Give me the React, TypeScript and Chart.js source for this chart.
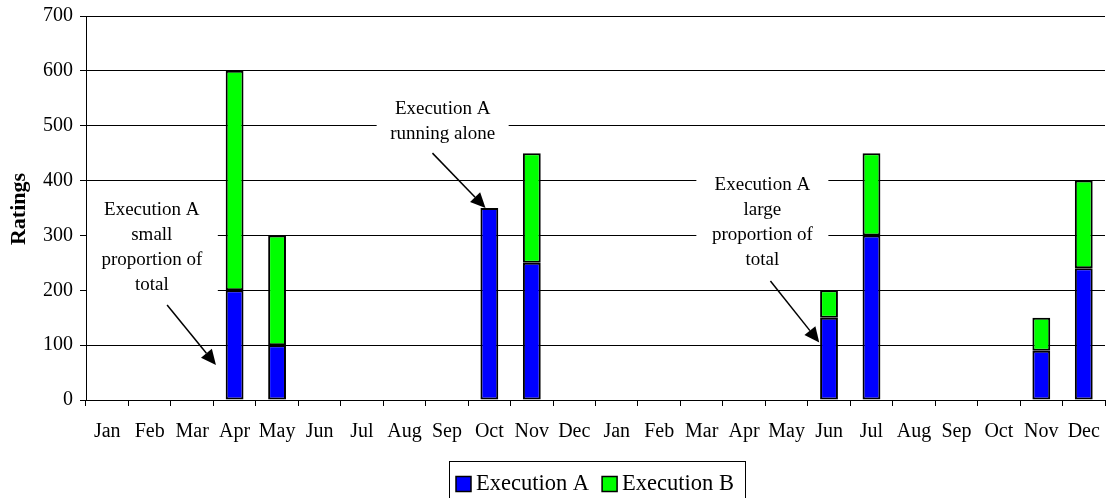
import React, { useEffect, useRef } from 'react';
import { Chart, registerables } from 'chart.js';

Chart.register(...registerables);

const FONT = '"Liberation Serif", "Times New Roman", serif';

const categories = [
  'Jan', 'Feb', 'Mar', 'Apr', 'May', 'Jun', 'Jul', 'Aug', 'Sep', 'Oct', 'Nov', 'Dec',
  'Jan', 'Feb', 'Mar', 'Apr', 'May', 'Jun', 'Jul', 'Aug', 'Sep', 'Oct', 'Nov', 'Dec',
];

const executionA = [
  null, null, null, 200, 100, null, null, null, null, 350, 250, null,
  null, null, null, null, null, 150, 300, null, null, null, 90, 240,
];

const executionB = [
  null, null, null, 400, 200, null, null, null, null, null, 200, null,
  null, null, null, null, null, 50, 150, null, null, null, 60, 160,
];

const yTicks = [0, 100, 200, 300, 400, 500, 600, 700];

const seriesNames = ['Execution A', 'Execution B'];
const seriesColors = ['#0000FF', '#00FF00'];

// annotation text; anchor in category index / value units
const annotations = [
  { lines: ['Execution A', 'small', 'proportion of', 'total'], cx: 1.05, cy: 346, from: [1.41, 173], to: [2.56, 64] },
  { lines: ['Execution A', 'running alone'], cx: 7.9, cy: 530, from: [7.66, 450], to: [8.91, 350] },
  { lines: ['Execution A', 'large', 'proportion of', 'total'], cx: 15.43, cy: 392, from: [15.62, 217], to: [16.77, 105] },
];

function drawArrow(ctx: CanvasRenderingContext2D, x1: number, y1: number, x2: number, y2: number) {
  const ang = Math.atan2(y2 - y1, x2 - x1);
  const headLen = 15;
  const headW = 7;
  const bx = x2 - headLen * Math.cos(ang);
  const by = y2 - headLen * Math.sin(ang);
  ctx.save();
  ctx.strokeStyle = '#000';
  ctx.fillStyle = '#000';
  ctx.lineWidth = 1.5;
  ctx.beginPath();
  ctx.moveTo(x1, y1);
  ctx.lineTo(bx, by);
  ctx.stroke();
  ctx.beginPath();
  ctx.moveTo(x2, y2);
  ctx.lineTo(bx + headW * Math.sin(ang), by - headW * Math.cos(ang));
  ctx.lineTo(bx - headW * Math.sin(ang), by + headW * Math.cos(ang));
  ctx.closePath();
  ctx.fill();
  ctx.restore();
}

const overlayPlugin = {
  id: 'overlay',
  afterDraw(chart: any) {
    const { ctx, scales, chartArea } = chart;
    const xs = scales.x;
    const ys = scales.y;
    const lineH = 25;
    ctx.save();
    annotations.forEach((a) => {
      const cx = xs.getPixelForValue(a.cx);
      const cy = ys.getPixelForValue(a.cy);
      const top = cy - 16;
      const bottom = cy + (a.lines.length - 1) * lineH + 14;
      const left = Math.max(cx - 66, chartArea.left + 1);
      const right = cx + 66;
      ctx.fillStyle = '#fff';
      ctx.fillRect(left, top, right - left, bottom - top);
      ctx.fillStyle = '#000';
      ctx.font = `19px ${FONT}`;
      ctx.textAlign = 'center';
      ctx.textBaseline = 'middle';
      a.lines.forEach((l, i) => ctx.fillText(l, cx, cy + i * lineH));
      drawArrow(
        ctx,
        xs.getPixelForValue(a.from[0]), ys.getPixelForValue(a.from[1]),
        xs.getPixelForValue(a.to[0]), ys.getPixelForValue(a.to[1])
      );
    });

    // y axis title
    ctx.save();
    ctx.translate(19, 209);
    ctx.rotate(-Math.PI / 2);
    ctx.font = `bold 22px ${FONT}`;
    ctx.textAlign = 'center';
    ctx.textBaseline = 'middle';
    ctx.fillStyle = '#000';
    ctx.fillText('Ratings', 0, 0);
    ctx.restore();

    // legend
    ctx.font = `22.5px ${FONT}`;
    ctx.textAlign = 'left';
    ctx.textBaseline = 'middle';
    const box = 15;
    const gap = 5;
    const itemGap = 13;
    const padL = 7;
    const padR = 11;
    const widths = seriesNames.map((n) => box + gap + ctx.measureText(n).width);
    const total = widths.reduce((s, w) => s + w, 0) + itemGap * (seriesNames.length - 1) + padL + padR;
    const lx = Math.round((chartArea.left + chartArea.right) / 2 - total / 2 + 1);
    const ly = 461;
    const lh = 40;
    ctx.strokeStyle = '#000';
    ctx.lineWidth = 1;
    ctx.strokeRect(lx + 0.5, ly + 0.5, Math.round(total), lh);
    let x = lx + padL;
    const my = 484;
    seriesNames.forEach((n, i) => {
      ctx.fillStyle = seriesColors[i];
      ctx.fillRect(x, my - box / 2, box, box);
      ctx.strokeStyle = '#000';
      ctx.lineWidth = 1.5;
      ctx.strokeRect(x, my - box / 2, box, box);
      ctx.fillStyle = '#000';
      ctx.fillText(n, x + box + gap, my);
      x += widths[i] + itemGap;
    });
    ctx.restore();
  },
};

export default function App() {
  const ref = useRef<HTMLCanvasElement>(null);
  useEffect(() => {
    if (!ref.current) return;
    const chart = new Chart(ref.current, {
      type: 'bar',
      data: {
        labels: categories,
        datasets: [
          {
            label: seriesNames[0],
            data: executionA,
            backgroundColor: seriesColors[0],
            borderColor: '#000',
            borderWidth: 2,
            borderSkipped: false,
            barPercentage: 0.42,
            categoryPercentage: 1,
          },
          {
            label: seriesNames[1],
            data: executionB,
            backgroundColor: seriesColors[1],
            borderColor: '#000',
            borderWidth: 2,
            borderSkipped: false,
            barPercentage: 0.42,
            categoryPercentage: 1,
          },
        ],
      },
      options: {
        animation: false,
        responsive: false,
        devicePixelRatio: 1,
        layout: { padding: { top: 16, right: 1, left: 0, bottom: 0 } },
        plugins: {
          legend: { display: false },
          tooltip: { enabled: false },
        },
        scales: {
          x: {
            stacked: true,
            grid: { drawOnChartArea: false, drawTicks: true, tickLength: 6, color: '#000', offset: true },
            border: { color: '#000', width: 1 },
            ticks: { color: '#000', font: { family: FONT, size: 20 }, padding: 14, maxRotation: 0, autoSkip: false },
            afterFit: (s: any) => { s.height = 98; s.paddingLeft = 0; s.paddingRight = 0; },
          },
          y: {
            stacked: true,
            min: 0,
            max: 700,
            afterBuildTicks: (s: any) => { s.ticks = yTicks.map((v) => ({ value: v })); },
            grid: { color: '#000', lineWidth: 1, tickLength: 6 },
            border: { color: '#000', width: 1 },
            ticks: { color: '#000', font: { family: FONT, size: 20 }, padding: 7 },
            afterFit: (s: any) => { s.width = 86; s.paddingTop = 0; s.paddingBottom = 0; },
          },
        },
      },
      plugins: [overlayPlugin],
    });
    return () => chart.destroy();
  }, []);
  return (
    <div style={{ position: 'absolute', left: 0, top: 0, width: 1106, height: 498, background: '#fff' }}>
      <canvas ref={ref} width={1106} height={498} />
    </div>
  );
}
